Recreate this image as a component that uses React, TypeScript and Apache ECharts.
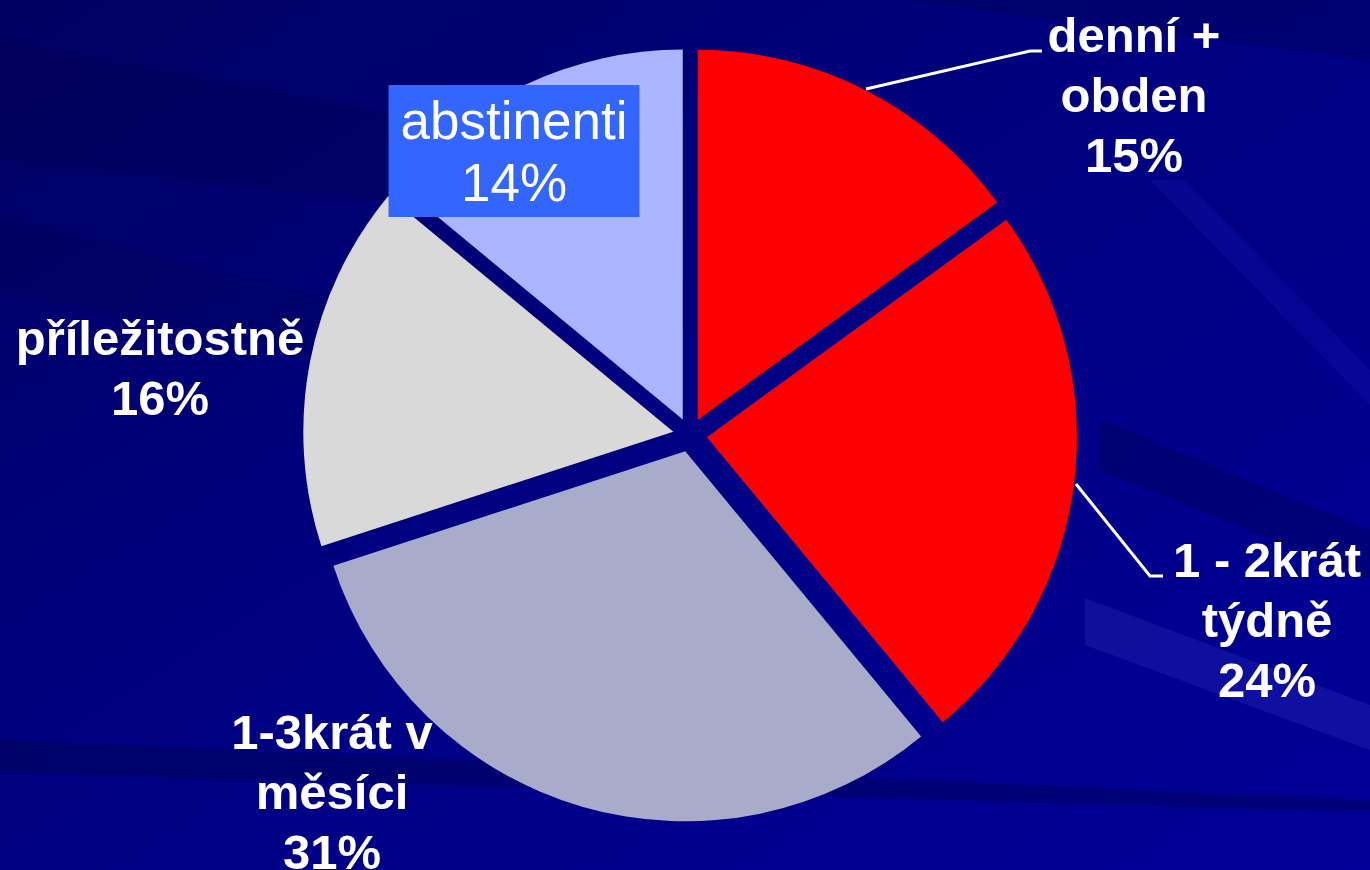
import React, { useEffect, useRef } from "react";
import * as echarts from "echarts";

// ---- data ----
const categories: string[] = ["denní +\nobden", "1 - 2krát\ntýdně", "1-3krát v\nměsíci", "příležitostně", "abstinenti"];
const values: number[] = [15, 24, 31, 16, 14];
const sliceColors: string[] = ["#FF0000", "#FF0000", "#A9ABCB", "#D9D9D9", "#AAB4FF"];

// ---- layout (label block centres and leader lines) ----
const labelCenters: number[][] = [[1134, 95], [1267, 620], [332, 792], [160, 368], [514, 151]];
const leaderLines: (number[][] | null)[] = [
  [[866, 89], [1030, 51], [1042, 51]],
  [[1076, 484], [1150, 576], [1163, 576]],
  null,
  null,
  null,
];

const FONT = "'Liberation Sans', Arial, sans-serif";
const PIE_CENTER = [690, 435];
const PIE_RADIUS = 370;

export default function App() {
  const ref = useRef<HTMLDivElement>(null);
  useEffect(() => {
    if (!ref.current) return;
    const chart = echarts.init(ref.current, null, { renderer: "svg" });

    const bands = [
      { pts: [[0, 40], [420, 118], [420, 205], [0, 160]], fill: "rgba(0,0,40,0.15)" },
      { pts: [[0, 215], [330, 300], [330, 360], [0, 290]], fill: "rgba(0,0,40,0.12)" },
      { pts: [[500, 0], [1370, 0], [1370, 60], [900, 0]], fill: "rgba(0,0,30,0.15)" },
      { pts: [[1150, 180], [1185, 180], [1370, 370], [1370, 405]], fill: "rgba(40,40,220,0.15)" },
      { pts: [[1100, 420], [1370, 530], [1370, 580], [1100, 470]], fill: "rgba(0,0,50,0.25)" },
      { pts: [[1085, 598], [1370, 705], [1370, 750], [1085, 645]], fill: "rgba(70,70,210,0.22)" },
      { pts: [[0, 740], [1370, 800], [1370, 812], [0, 772]], fill: "rgba(0,0,40,0.25)" },
    ];

    chart.setOption({
      animation: false,
      graphic: [
        {
          type: "rect",
          z: -10,
          silent: true,
          shape: { x: 0, y: 0, width: 1370, height: 870 },
          style: {
            fill: new echarts.graphic.LinearGradient(0, 0, 1, 1, [
              { offset: 0, color: "#000062" },
              { offset: 0.45, color: "#000080" },
              { offset: 1, color: "#000098" },
            ]),
          },
        },
        ...bands.map((b) => ({
          type: "polygon",
          z: -9,
          silent: true,
          shape: { points: b.pts },
          style: { fill: b.fill },
        })),
      ],
      series: [
        // exploded slices
        {
          type: "pie",
          name: "slices",
          center: PIE_CENTER,
          radius: PIE_RADIUS,
          startAngle: 90,
          clockwise: true,
          selectedMode: "multiple",
          selectedOffset: 17,
          emphasis: { disabled: true },
          label: { show: false },
          labelLine: { show: false },
          data: categories.map((name, i) => ({
            name,
            value: values[i],
            selected: true,
            itemStyle: { color: sliceColors[i], borderWidth: 0 },
            select: { itemStyle: { color: sliceColors[i], borderWidth: 0 } },
          })),
        },
        // labels
        {
          type: "pie",
          name: "labels",
          center: PIE_CENTER,
          radius: PIE_RADIUS,
          startAngle: 90,
          clockwise: true,
          silent: true,
          avoidLabelOverlap: false,
          selectedMode: false,
          emphasis: { disabled: true },
          itemStyle: { color: "rgba(0,0,0,0)", borderWidth: 0 },
          label: {
            show: true,
            position: "outside",
            color: "#FFFFFF",
            fontFamily: FONT,
            fontSize: 49,
            fontWeight: "bold",
            lineHeight: 60,
            formatter: (p: any) => `${p.name}\n${p.value}%`,
          },
          labelLine: {
            show: true,
            lineStyle: { color: "#FFFFFF", width: 3 },
          },
          labelLayout: (params: any) => {
            const i = params.dataIndex;
            const out: any = {
              x: labelCenters[i][0],
              y: labelCenters[i][1],
              align: "center",
              verticalAlign: "middle",
            };
            if (leaderLines[i]) out.labelLinePoints = leaderLines[i];
            return out;
          },
          data: categories.map((name, i) => {
            const item: any = { name, value: values[i] };
            if (!leaderLines[i]) item.labelLine = { show: false };
            if (i === 4) {
              item.label = {
                fontWeight: "normal",
                fontSize: 53,
                lineHeight: 62,
                backgroundColor: "#3366FF",
                padding: [4, 12, 4, 12],
              };
            }
            return item;
          }),
        },
      ],
    });
    return () => chart.dispose();
  }, []);
  return <div ref={ref} style={{ position: "absolute", left: 0, top: 0, width: 1370, height: 870 }} />;
}
